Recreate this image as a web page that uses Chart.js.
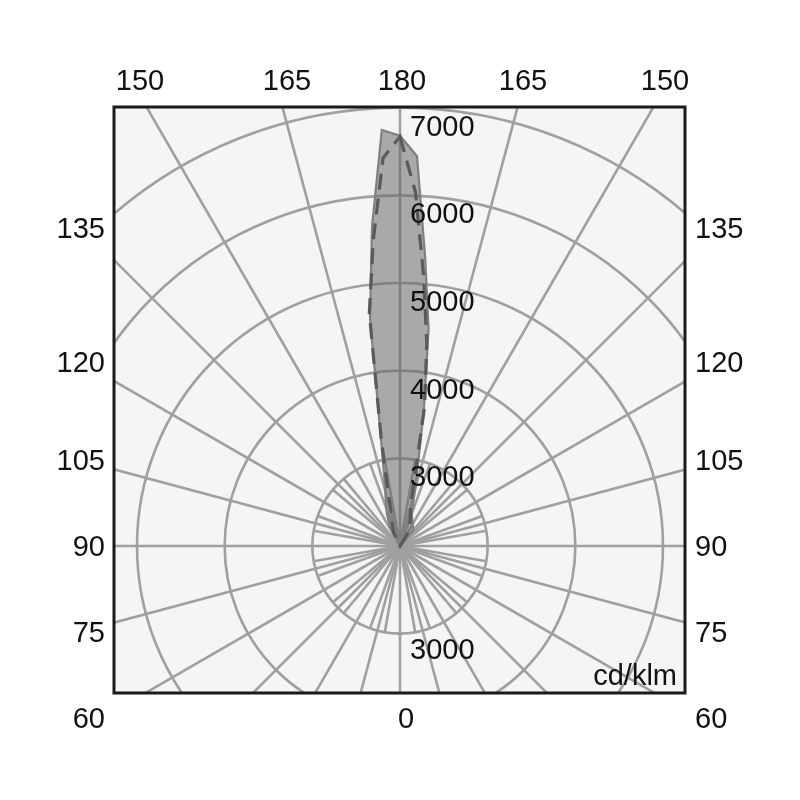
<!DOCTYPE html>
<html>
<head>
<meta charset="utf-8">
<title>Luminous intensity diagram</title>
<script src="https://cdn.jsdelivr.net/npm/chart.js@4.4.1/dist/chart.umd.min.js"></script>
<style>
  html, body { margin: 0; padding: 0; background: #fff; }
  body { width: 800px; height: 800px; position: relative; overflow: hidden; }
  /* pole of the diagram sits at (400, 546) on the page */
  #polar { position: absolute; left: -126px; top: 20px; }
</style>
</head>
<body>
<canvas id="polar" width="1052" height="1052"></canvas>
<script>
// Angle grid of the radar, 2.5° steps clockwise from the top (180°)
const STEP = 2.5;
const directions = [];
for (let d = 0; d < 360; d += STEP) directions.push(d);

// Offsets from the 180° axis, negative = left half
const gammaOffsets = [-30, -27.5, -25, -22.5, -20, -17.5, -15, -12.5, -10, -7.5, -5, -2.5,
  0, 2.5, 5, 7.5, 10, 12.5, 15, 17.5, 20, 22.5, 25, 27.5, 30, 32.5, 35, 37.5, 40, 42.5];

// cd/klm (solid filled plane and dashed plane)
const solidValues = [2000, 2250, 2300, 2390, 2450, 2540, 2650, 2840, 3260, 4620, 5660, 6750,
  6680, 6450, 5300, 4500, 3560, 2940, 2660, 2490, 2390, 2360, 2330, 2310, 2290, 2270, 2260, 2250, 2240, 2000];
const dashedValues = [2000, 2090, 2170, 2210, 2250, 2310, 2380, 2620, 3220, 4680, 5500, 6430,
  6670, 6040, 5090, 4340, 3620, 2710, 2460, 2400, 2340, 2300, 2250, 2210, 2170, 2100, 2000, null, null, null];

// Rings and their labels
const radialTicks = [3000, 4000, 5000, 6000, 7000];
const lowerTicks = [3000];

// Angle labels around the frame
const topLabels = ['150', '165', '180', '165', '150'];
const sideLabels = ['135', '120', '105', '90', '75', '60'];
const bottomLabel = '0';
const unitLabel = 'cd/klm';

// Layout (pixels relative to the pole)
const BOX = { left: -286, right: 285, top: -439, bottom: 147 };
const TOP_X = [-260, -113, 2, 123, 265];
const TOP_Y = -456;
const SIDE_Y = [-308, -174, -76, 10, 96, 182];
const SIDE_X = 295;
const GRID_COLOR = '#a0a0a0';
const GRID_WIDTH = 2.6;
const FONT = '29px "Liberation Sans", Arial, sans-serif';

function toRadar(values) {
  const out = directions.map(() => null);
  gammaOffsets.forEach((g, k) => {
    const idx = Math.round(((g + 360) % 360) / STEP);
    out[idx] = values[k];
  });
  return out;
}

const polarFrame = {
  id: 'polarFrame',
  beforeDraw(chart) {
    const { ctx } = chart;
    const r = chart.scales.r;
    const x = r.xCenter + BOX.left, y = r.yCenter + BOX.top;
    const w = BOX.right - BOX.left, h = BOX.bottom - BOX.top;
    ctx.save();
    ctx.fillStyle = '#f5f5f5';
    ctx.fillRect(x, y, w, h);
    ctx.beginPath();
    ctx.rect(x, y, w, h);
    ctx.clip();
  },
  beforeDatasetsDraw(chart) {
    // short spokes every 10° inside the first ring
    const { ctx } = chart;
    const r = chart.scales.r;
    ctx.save();
    ctx.strokeStyle = GRID_COLOR;
    ctx.lineWidth = GRID_WIDTH;
    directions.forEach((deg, i) => {
      if (deg % 10 !== 0 || deg % 15 === 0) return;
      const p = r.getPointPositionForValue(i, radialTicks[0]);
      ctx.beginPath();
      ctx.moveTo(r.xCenter, r.yCenter);
      ctx.lineTo(p.x, p.y);
      ctx.stroke();
    });
    ctx.restore();
  },
  afterDraw(chart) {
    const { ctx } = chart;
    const r = chart.scales.r;
    const cx = r.xCenter, cy = r.yCenter;
    ctx.restore();

    // frame
    ctx.save();
    ctx.strokeStyle = '#1a1a1a';
    ctx.lineWidth = 3;
    ctx.strokeRect(cx + BOX.left, cy + BOX.top, BOX.right - BOX.left, BOX.bottom - BOX.top);

    ctx.fillStyle = '#111';
    ctx.font = FONT;
    ctx.textBaseline = 'alphabetic';

    // ring values
    ctx.textAlign = 'left';
    radialTicks.forEach(v => {
      const d = r.getDistanceFromCenterForValue(v);
      ctx.fillText(String(v), cx + 10, cy - d + 28);
    });
    lowerTicks.forEach(v => {
      const d = r.getDistanceFromCenterForValue(v);
      ctx.fillText(String(v), cx + 10, cy + d + 25);
    });

    // angle labels
    ctx.textAlign = 'center';
    topLabels.forEach((t, i) => ctx.fillText(t, cx + TOP_X[i], cy + TOP_Y));
    ctx.fillText(bottomLabel, cx + 6, cy + 182);
    ctx.textAlign = 'right';
    sideLabels.forEach((t, i) => ctx.fillText(t, cx - SIDE_X, cy + SIDE_Y[i]));
    ctx.textAlign = 'left';
    sideLabels.forEach((t, i) => ctx.fillText(t, cx + SIDE_X, cy + SIDE_Y[i]));

    // unit
    ctx.textAlign = 'right';
    ctx.fillText(unitLabel, cx + BOX.right - 8, cy + BOX.bottom - 8);
    ctx.restore();
  }
};

new Chart(document.getElementById('polar'), {
  type: 'radar',
  data: {
    labels: directions.map(String),
    datasets: [
      {
        data: toRadar(solidValues),
        borderColor: '#808080',
        borderWidth: 2.2,
        backgroundColor: 'rgba(100, 100, 100, 0.52)',
        fill: 'start',
        pointRadius: 0,
        tension: 0,
        spanGaps: true,
        order: 2
      },
      {
        data: toRadar(dashedValues),
        borderColor: '#5a5a5a',
        borderWidth: 3.2,
        borderDash: [16, 9],
        fill: false,
        pointRadius: 0,
        tension: 0,
        spanGaps: true,
        order: 1
      }
    ]
  },
  options: {
    responsive: false,
    animation: false,
    plugins: {
      legend: { display: false },
      tooltip: { enabled: false }
    },
    scales: {
      r: {
        min: 2000,
        max: 8000,
        startAngle: 0,
        ticks: { display: false, stepSize: 1000 },
        pointLabels: { display: false },
        grid: { circular: true, color: GRID_COLOR, lineWidth: GRID_WIDTH },
        angleLines: {
          color: GRID_COLOR,
          lineWidth: (c) => (directions[c.index] % 15 === 0 ? GRID_WIDTH : 0)
        }
      }
    }
  },
  plugins: [polarFrame]
});
</script>
</body>
</html>
